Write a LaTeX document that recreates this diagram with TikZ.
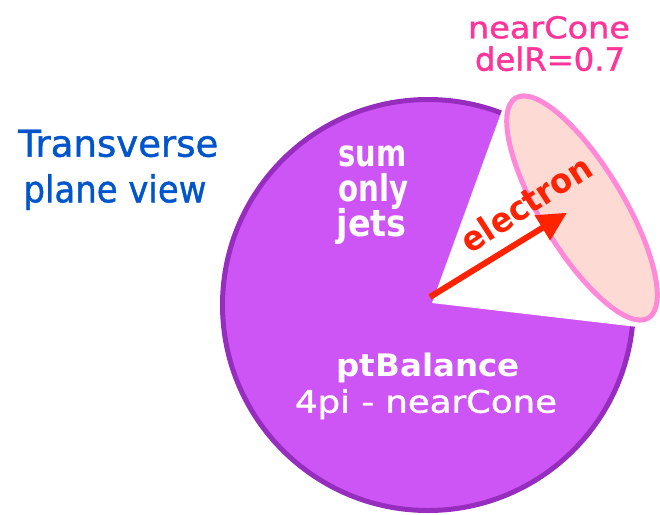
\documentclass[tikz,border=0pt]{standalone}
\usepackage{fontspec}
\setmainfont{DejaVu Sans}
\newfontfamily\medfont[FakeBold=1.2]{DejaVu Sans}
\usepackage{graphicx}
\usetikzlibrary{arrows.meta,calc}
\definecolor{disc}{RGB}{205,85,245}
\definecolor{discline}{RGB}{150,45,190}
\definecolor{conefill}{RGB}{253,218,212}
\definecolor{coneline}{RGB}{255,136,216}
\definecolor{ered}{RGB}{255,34,0}
\definecolor{pinktext}{RGB}{255,51,153}
\definecolor{bluetext}{RGB}{0,85,204}
% width, font size, text
\newcommand{\fitxh}[3]{\resizebox{#1pt}{\height}{\fontsize{#2pt}{#2pt}\selectfont #3}}
\begin{document}
\begin{tikzpicture}[x=1pt,y=1pt,
  lbl/.style={inner sep=0pt, anchor=base},
  bluelbl/.style={lbl, text=bluetext},
  pinklbl/.style={lbl, text=pinktext},
  whitelbl/.style={lbl, text=white}]
\useasboundingbox (0,0) rectangle (660,-514);
\coordinate (c) at (428,-305);
\coordinate (apex) at (432,-303);
\fill[disc, draw=discline, line width=5pt] (c) circle[radius=205.5];
\fill[white] (apex) -- ($(c)+(69.2:212)$) arc[start angle=69.2, end angle=-6, radius=212] -- cycle;
\draw[coneline, fill=conefill, line width=5pt, rotate around={-58.9:(582,-208)}] (582,-208) ellipse[x radius=128.5, y radius=41.5];
\coordinate (tail) at (430,-297);
\coordinate (tip) at (567,-212.7);
\draw[ered, line width=6pt, -{Triangle[length=29pt,width=28pt]}] (tail) -- (tip);
\node[lbl, text=ered, rotate=33] (el) at (533,-214) {\fitxh{148}{34}{\bfseries electron}};
% left title
\node[bluelbl] (t1) at (118.3,-156.7) {\fitxh{200}{37}{\medfont Transverse}};
\node[bluelbl] (t2) at (115,-202.3) {\fitxh{183}{37}{\medfont plane view}};
% near cone label
\node[pinklbl] (n1) at (549,-38.3) {\fitxh{162}{30}{\medfont nearCone}};
\node[pinklbl] (n2) at (550,-70.7) {\fitxh{150}{32}{\medfont delR=0.7}};
% sum only jets
\node[whitelbl] (s1) at (372.5,-166.7) {\fitxh{68}{37}{\bfseries sum}};
\node[whitelbl] (s2) at (373.3,-201.7) {\fitxh{70}{37}{\bfseries only}};
\node[whitelbl] (s3) at (371.7,-236.7) {\fitxh{70}{37}{\bfseries jets}};
% ptBalance
\node[whitelbl] (p1) at (428,-376.7) {\fitxh{183}{31}{\bfseries ptBalance}};
\node[whitelbl] (p2) at (426,-412.7) {\fitxh{262}{31}{\medfont 4pi - nearCone}};
\end{tikzpicture}
\end{document}
